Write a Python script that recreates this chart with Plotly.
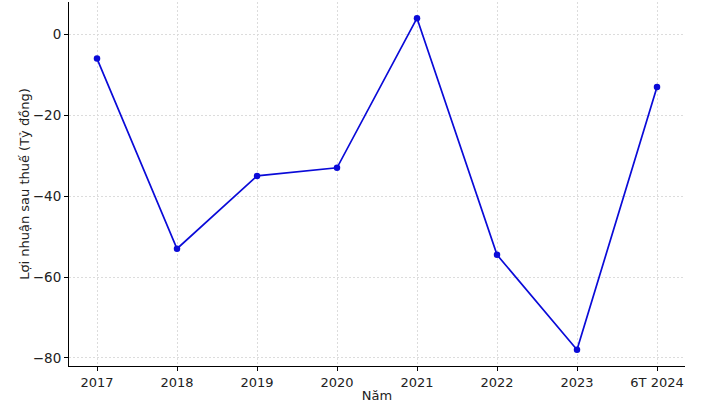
import plotly.graph_objects as go

categories = ["2017", "2018", "2019", "2020", "2021", "2022", "2023", "6T 2024"]
profit = [-6, -53, -35, -33, 4, -54.5, -78, -13]
y_ticks = [0, -20, -40, -60, -80]
y_tick_labels = ["0", "−20", "−40", "−60", "−80"]

fig = go.Figure()
fig.add_trace(go.Scatter(
    x=list(range(len(categories))), y=profit, mode="lines+markers",
    line=dict(color="#0a0ad8", width=1.7),
    marker=dict(color="#0a0ad8", size=6.5),
    showlegend=False,
))

grid = dict(showgrid=True, gridcolor="#dcdcdc", gridwidth=0.8, griddash="2px,2px")
fig.update_layout(
    width=705, height=404,
    margin=dict(l=69, r=20, t=2, b=38),
    paper_bgcolor="white", plot_bgcolor="white",
    font=dict(family="DejaVu Sans", size=13, color="#222"),
    xaxis=dict(
        range=[-0.35, 7.35], tickmode="array",
        tickvals=list(range(len(categories))), ticktext=categories,
        showline=True, linecolor="black", linewidth=1,
        ticks="outside", ticklen=4, tickcolor="black", automargin=False,
        title=dict(text="Năm", standoff=2, font=dict(size=13)),
        zeroline=False, **grid,
    ),
    yaxis=dict(
        range=[-82, 8], tickmode="array", tickvals=y_ticks, ticktext=y_tick_labels,
        showline=True, linecolor="black", linewidth=1,
        ticks="outside", ticklen=4, tickcolor="black", automargin=False,
        tickfont=dict(size=13.5),
        title=dict(text="Lợi nhuận sau thuế (Tỷ đồng)", standoff=0, font=dict(size=13)),
        zeroline=False, **grid,
    ),
)
fig.write_html("out.html", config={"displayModeBar": False},
               post_script="document.body.style.margin='0';document.body.style.overflow='hidden';")
